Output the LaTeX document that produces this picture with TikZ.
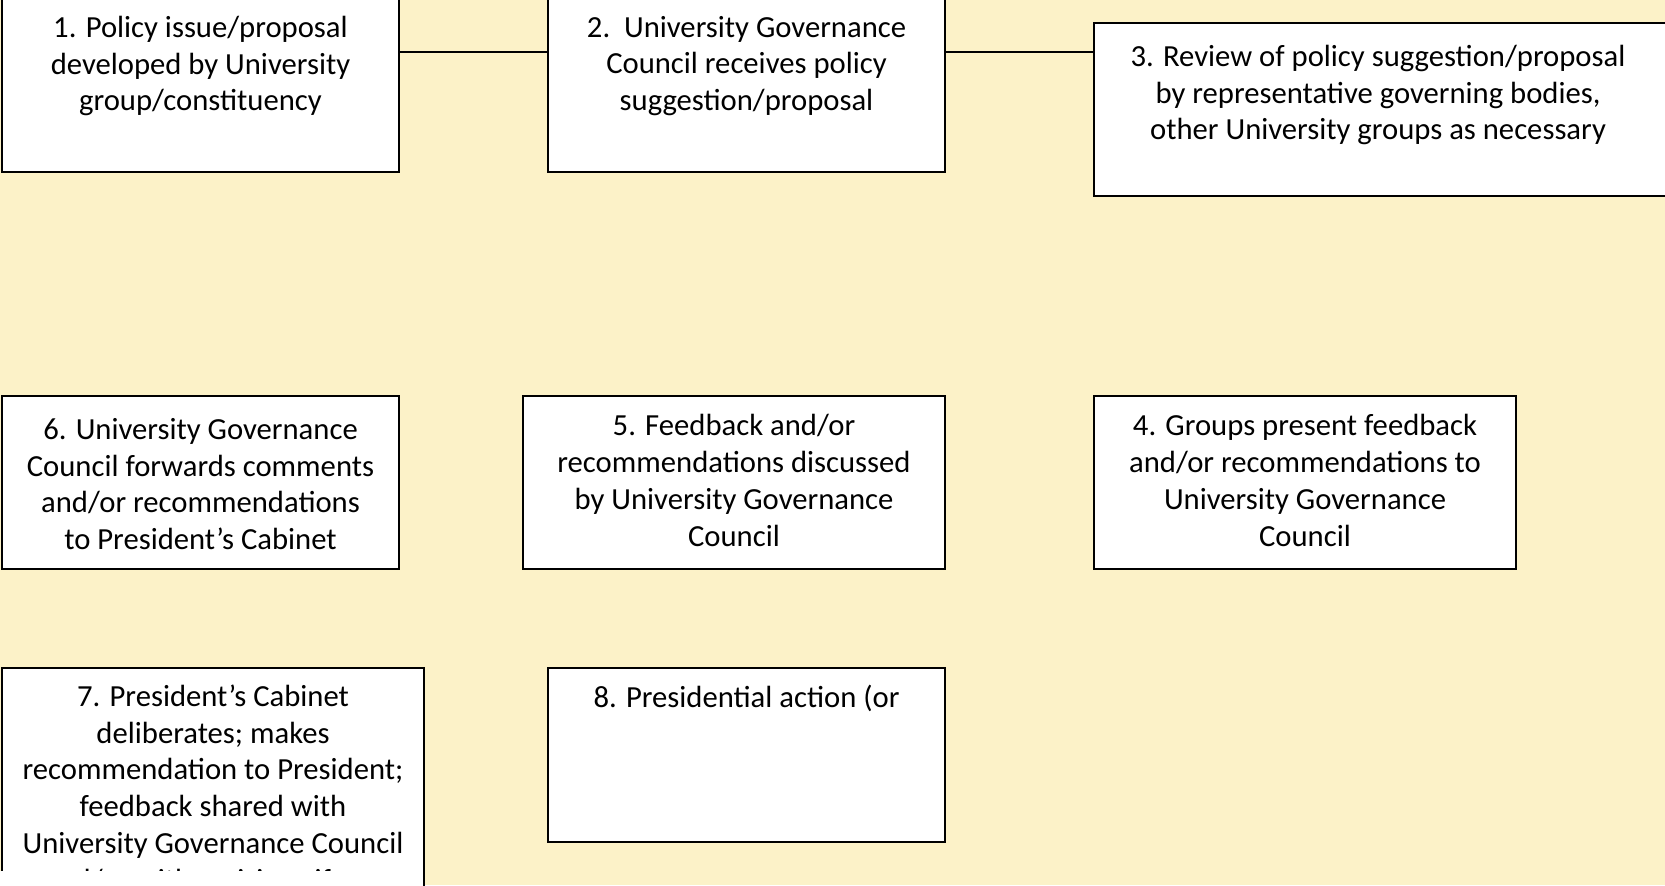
\documentclass[tikz,border=0pt]{standalone}
\usepackage{fontspec}
\setmainfont{Carlito}
\usetikzlibrary{fit}
\definecolor{cBack}{HTML}{FCF2C8}
\tikzset{every picture/.style={line width=0.75pt}}

\begin{document}
\begin{tikzpicture}[x=0.75pt,y=0.75pt,yscale=-1,xscale=1,
	box/.style={draw, fill=white, line width=1.5, inner sep=0pt},
	txt/.style={align=center, inner sep=0pt, font=\fontsize{23}{27.6}\selectfont}]
	\useasboundingbox (0,0) rectangle (1665,885);
	\clip (0,0) rectangle (1665,885);
	%Background
	\fill [cBack] (0,0) rectangle (1665,885);

	%Shape: Rectangle [top row]
	\node [box, fit={(2,-3) (399,172)}] (b1) {};
	\node [box, fit={(548,-3) (945,172)}] (b2) {};
	\node [box, fit={(1094,23) (1667,196)}] (b3) {};
	%Shape: Rectangle [middle row]
	\node [box, fit={(1094,396) (1516,569)}] (b4) {};
	\node [box, fit={(523,396) (945,569)}] (b5) {};
	\node [box, fit={(2,396) (399,569)}] (b6) {};
	%Shape: Rectangle [bottom row]
	\node [box, fit={(2,668) (424,960)}] (b7) {};
	\node [box, fit={(548,668) (945,842)}] (b8) {};

	%Straight Lines
	\coordinate (r1) at (0,52);
	\draw [line width=2] (b1.east |- r1) -- (b2.west |- r1);
	\draw [line width=2] (b2.east |- r1) -- (b3.west |- r1);

	% Text Node
	\node [txt] (t1) at (200.5,66) {1. Policy issue/proposal\\developed by University\\group/constituency};
	% Text Node
	\node [txt] (t2) at (746.5,66) {2.\ \ University Governance\\Council receives policy\\suggestion/proposal};
	% Text Node
	\node [txt] (t3) at (1378,95) {3. Review of policy suggestion/proposal\\by representative governing bodies,\\other University groups as necessary};
	% Text Node
	\node [txt] (t4) at (1305,480.5) {4. Groups present feedback\\and/or recommendations to\\University Governance\\Council};
	% Text Node
	\node [txt] (t5) at (734,480.5) {5. Feedback and/or\\recommendations discussed\\by University Governance\\Council};
	% Text Node
	\node [txt] (t6) at (200.5,484) {6. University Governance\\Council forwards comments\\and/or recommendations\\to President's Cabinet};
	% Text Node
	\node [txt] (t7) at (213,790) {7. President's Cabinet\\deliberates; makes\\recommendation to President;\\feedback shared with\\University Governance Council\\and/or with revisions if any};
	% Text Node
	\node [txt] (t8) at (746.5,698) {8. Presidential action (or};

	%cut edge
	\fill [white] (0,871) rectangle (422,890);
\end{tikzpicture}
\end{document}
